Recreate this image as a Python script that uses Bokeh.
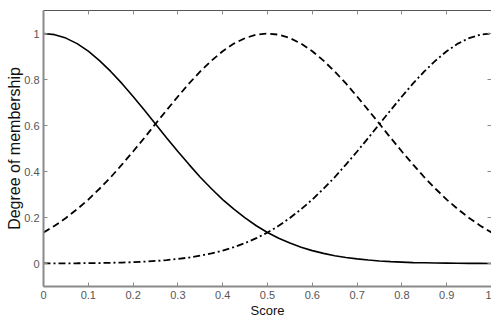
from bokeh.plotting import figure
from bokeh.models import LinearAxis, FixedTicker, CustomJSTickFormatter, Range1d
from bokeh.embed import file_html
from bokeh.resources import INLINE

score = [0.0, 0.025, 0.05, 0.075, 0.1, 0.125, 0.15, 0.175, 0.2, 0.225, 0.25,
         0.275, 0.3, 0.325, 0.35, 0.375, 0.4, 0.425, 0.45, 0.475, 0.5,
         0.525, 0.55, 0.575, 0.6, 0.625, 0.65, 0.675, 0.7, 0.725, 0.75,
         0.775, 0.8, 0.825, 0.85, 0.875, 0.9, 0.925, 0.95, 0.975, 1.0]

low = [1.0, 0.995, 0.98, 0.956, 0.923, 0.882, 0.835, 0.783, 0.726, 0.667, 0.607,
       0.546, 0.487, 0.43, 0.375, 0.325, 0.278, 0.236, 0.198, 0.164, 0.135,
       0.11, 0.089, 0.071, 0.056, 0.044, 0.034, 0.026, 0.02, 0.015, 0.011,
       0.008, 0.006, 0.004, 0.003, 0.002, 0.0015, 0.001, 0.0007, 0.0005, 0.0003]

medium = [0.135, 0.164, 0.198, 0.236, 0.278, 0.325, 0.375, 0.43, 0.487, 0.546, 0.607,
          0.667, 0.726, 0.783, 0.835, 0.882, 0.923, 0.956, 0.98, 0.995, 1.0,
          0.995, 0.98, 0.956, 0.923, 0.882, 0.835, 0.783, 0.726, 0.667, 0.607,
          0.546, 0.487, 0.43, 0.375, 0.325, 0.278, 0.236, 0.198, 0.164, 0.135]

high = [0.0003, 0.0005, 0.0007, 0.001, 0.0015, 0.002, 0.003, 0.004, 0.006, 0.008, 0.011,
        0.015, 0.02, 0.026, 0.034, 0.044, 0.056, 0.071, 0.089, 0.11, 0.135,
        0.164, 0.198, 0.236, 0.278, 0.325, 0.375, 0.43, 0.487, 0.546, 0.607,
        0.667, 0.726, 0.783, 0.835, 0.882, 0.923, 0.956, 0.98, 0.995, 1.0]

x_ticks = [0, 0.1, 0.2, 0.3, 0.4, 0.5, 0.6, 0.7, 0.8, 0.9, 1.0]
y_ticks = [0, 0.2, 0.4, 0.6, 0.8, 1.0]

AX = "#8a8a8a"
LBL = "#555555"
FONT = "Liberation Sans Narrow, Liberation Sans, Arial"

p = figure(width=491, height=320, output_backend="svg", toolbar_location=None,
           x_range=Range1d(0, 1), y_range=Range1d(-0.1, 1.1),
           min_border_left=43, min_border_right=0, min_border_top=10, min_border_bottom=33)
p.outline_line_color = None
p.xgrid.visible = False
p.ygrid.visible = False

fmt = CustomJSTickFormatter(code="return String(Math.round(tick*10)/10);")

for ax, ticks in ((p.xaxis[0], x_ticks), (p.yaxis[0], y_ticks)):
    ax.ticker = FixedTicker(ticks=ticks)
    ax.formatter = fmt
    ax.axis_line_color = AX
    ax.axis_line_width = 2
    ax.major_tick_line_color = AX
    ax.major_tick_in = 4
    ax.major_tick_out = 0
    ax.minor_tick_line_color = None
    ax.major_label_text_color = LBL
    ax.major_label_text_font = FONT
    ax.major_label_text_font_size = "11px"
    ax.major_label_standoff = 4
    ax.axis_label_text_font = "Liberation Sans, Arial"
    ax.axis_label_text_font_style = "normal"
    ax.axis_label_text_color = "#111111"

p.xaxis.axis_label = "Score"
p.xaxis.axis_label_text_font_size = "13px"
p.xaxis.axis_label_standoff = 1
p.yaxis.axis_label = "Degree of membership"
p.yaxis.axis_label_text_font_size = "16px"
p.yaxis.axis_label_standoff = -2

top = LinearAxis(ticker=FixedTicker(ticks=x_ticks), axis_line_color="#555555",
                 major_tick_line_color=AX, major_tick_in=4, major_tick_out=0,
                 minor_tick_line_color=None, major_label_text_font_size="0px",
                 major_label_text_color=None, major_label_standoff=0)
right = LinearAxis(ticker=FixedTicker(ticks=y_ticks), axis_line_color=AX,
                   major_tick_line_color=AX, major_tick_in=4, major_tick_out=0,
                   minor_tick_line_color=None, major_label_text_font_size="0px",
                   major_label_text_color=None, major_label_standoff=0)
p.add_layout(top, "above")
p.add_layout(right, "right")

p.line(score, low, line_color="black", line_width=1.6)
p.line(score, medium, line_color="black", line_width=1.8, line_dash="7 4")
p.line(score, high, line_color="black", line_width=1.8, line_dash="7 3 2 3")

open("out.html", "w").write(file_html(p, INLINE))
